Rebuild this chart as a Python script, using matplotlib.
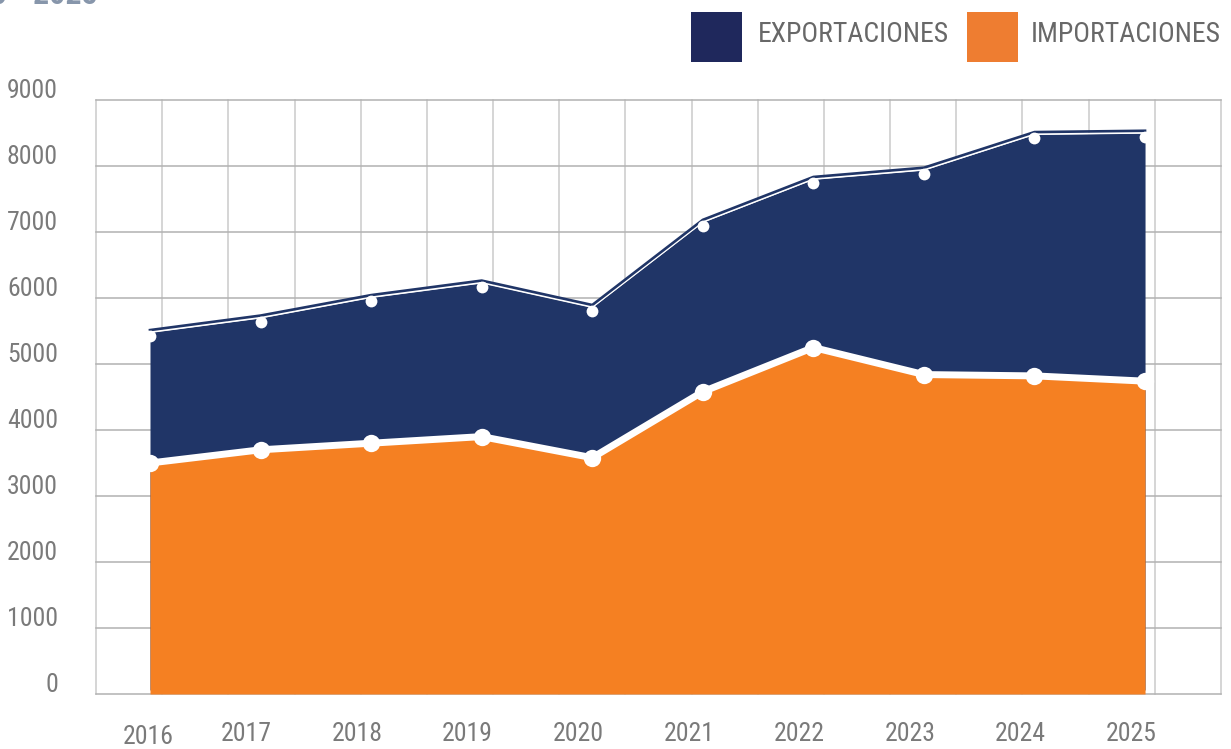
import matplotlib
matplotlib.use('Agg')
import matplotlib.pyplot as plt
from matplotlib import font_manager
from matplotlib.transforms import offset_copy, blended_transform_factory
from matplotlib.patches import Rectangle
import numpy as np

# ---------------- data ----------------
years = ['2016', '2017', '2018', '2019', '2020', '2021', '2022', '2023', '2024', '2025']
importaciones = [3500, 3700, 3800, 3900, 3580, 4580, 5250, 4840, 4820, 4740]
exportaciones = [1920, 1940, 2150, 2270, 2220, 2510, 2490, 3040, 3600, 3700]
y_ticks = [0, 1000, 2000, 3000, 4000, 5000, 6000, 7000, 8000, 9000]
legend_labels = ['EXPORTACIONES', 'IMPORTACIONES']
title_tail = '2016 - 2025'

# ---------------- style ----------------
NAVY = '#203567'
NAVY_LEG = '#1f285c'
ORANGE = '#f58022'
ORANGE_LEG = '#ee7d31'
GRID_H = '#b2b2b2'
GRID_V = '#cacaca'
TXT = '#7a7a7a'

available = {f.name for f in font_manager.fontManager.ttflist}
FONT = 'DejaVu Sans'
for cand in ['Liberation Sans Narrow', 'Roboto Condensed', 'Roboto', 'Liberation Sans']:
    if cand in available:
        FONT = cand
        break
plt.rcParams['font.family'] = [FONT, 'DejaVu Sans']

W, H = 1231, 749
fig = plt.figure(figsize=(W / 100, H / 100), dpi=100)
ax = fig.add_axes([96 / W, 55 / H, 1125 / W, 594 / H])
ax.set_xlim(-0.4884, 9.687)
ax.set_ylim(0, 9000)
for s in ax.spines.values():
    s.set_visible(False)
ax.set_xticks([])
ax.set_yticks([])

# grid
for v in y_ticks:
    ax.axhline(v, color=GRID_H, lw=1.1, zorder=1, clip_on=False)
nv = 17
for k in range(nv + 1):
    ax.plot([k / nv, k / nv], [0, 1], transform=ax.transAxes, color=GRID_V,
            lw=1.1, zorder=0.9, clip_on=False)

x = np.arange(len(years))
imp = np.array(importaciones, dtype=float)
total = imp + np.array(exportaciones, dtype=float)


def off(px, base=None):
    return offset_copy(base if base is not None else ax.transData, fig=fig,
                       x=0, y=px, units='dots')


# export (stacked) area
ax.fill_between(x, 0, total, color=NAVY, lw=0, transform=off(4), zorder=2)
ax.plot(x, total, color='white', lw=1.1, transform=off(4), zorder=4)
ax.plot(x, total, color=NAVY, lw=1.9, transform=off(6.2), zorder=4)
ax.plot(x, total, 'o', ms=8.5, color='white', mew=0, zorder=5)

# import area
ax.fill_between(x, 0, imp, color=ORANGE, lw=0, zorder=3)
ax.plot(x, imp, color='white', lw=5, zorder=4, solid_joinstyle='round')
ax.plot(x, imp, 'o', ms=12.5, color='white', mew=0, zorder=5, clip_on=False)

# y labels
ytr = blended_transform_factory(ax.transAxes, ax.transData)
ytr = offset_copy(ytr, fig=fig, x=-38, y=9, units='dots')
for v in y_ticks:
    ax.text(0, v, str(v), transform=ytr, ha='right', va='center',
            fontsize=18.5, color=TXT)

# x labels
xtr_base = blended_transform_factory(ax.transData, ax.transAxes)
for i, lab in enumerate(years):
    if i == 0:
        tr = offset_copy(xtr_base, fig=fig, x=-2, y=-43.5, units='dots')
    else:
        tr = offset_copy(xtr_base, fig=fig, x=-14, y=-40, units='dots')
    ax.text(i, 0, lab, transform=tr, ha='center', va='center',
            fontsize=18.5, color=TXT)

# legend
leg_colors = [NAVY_LEG, ORANGE_LEG]
box_x = [691, 967]
txt_x = [758, 1031]
for lab, c, bx, tx in zip(legend_labels, leg_colors, box_x, txt_x):
    fig.patches.append(Rectangle((bx / W, (H - 62) / H), 51 / W, 50 / H,
                                 transform=fig.transFigure, facecolor=c,
                                 edgecolor='none'))
    fig.text(tx / W, (H - 35) / H, lab, ha='left', va='center',
             fontsize=20, color='#686868')

# cut-off title remnant at top-left
fig.text(98 / W, (H - 4.5) / H, title_tail, ha='right', va='baseline',
         fontsize=23, fontweight='bold', color='#8796ab')

fig.savefig('out.png', dpi=100)
